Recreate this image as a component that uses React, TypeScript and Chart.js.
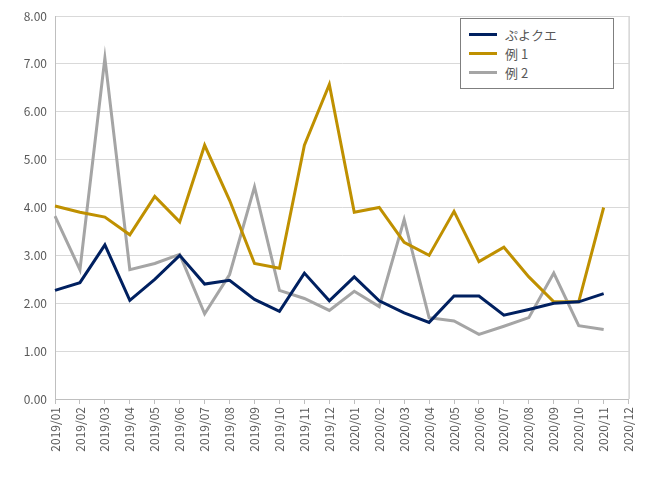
import React, { useEffect, useRef } from "react";
import { Chart, registerables } from "chart.js";
Chart.register(...registerables);

const categories = ["2019/01","2019/02","2019/03","2019/04","2019/05","2019/06","2019/07","2019/08","2019/09","2019/10","2019/11","2019/12","2020/01","2020/02","2020/03","2020/04","2020/05","2020/06","2020/07","2020/08","2020/09","2020/10","2020/11","2020/12"];
const puyo = [2.27,2.43,3.22,2.06,2.5,3.0,2.4,2.48,2.08,1.83,2.63,2.05,2.55,2.05,1.8,1.6,2.15,2.15,1.75,1.87,2.0,2.03,2.2];
const rei1 = [4.03,3.9,3.8,3.43,4.23,3.7,5.3,4.15,2.83,2.73,5.3,6.57,3.9,4.0,3.27,3.0,3.92,2.87,3.17,2.55,2.03,2.03,4.0];
const rei2 = [3.82,2.7,7.12,2.7,2.83,3.02,1.78,2.6,4.43,2.27,2.1,1.85,2.25,1.93,3.75,1.7,1.63,1.35,1.52,1.7,2.63,1.53,1.45];
const names = ["ぷよクエ","例 1","例 2"];
const colors = ["#002060","#BF9000","#A5A5A5"];

const FONT = "'Noto Sans CJK JP', 'Noto Sans', sans-serif";

export default function App() {
  const ref = useRef<HTMLCanvasElement>(null);
  useEffect(() => {
    const frame = {
      id: "frame",
      afterDatasetsDraw(c: any) {
        const { ctx, chartArea: a } = c;
        ctx.save();
        ctx.strokeStyle = "#BFBFBF";
        ctx.lineWidth = 1;
        ctx.beginPath();
        ctx.moveTo(a.right + 0.5, a.top);
        ctx.lineTo(a.right + 0.5, a.bottom);
        ctx.stroke();
        ctx.restore();
      },
    };
    const chart = new Chart(ref.current!, {
      type: "line",
      data: {
        labels: categories,
        datasets: [puyo, rei1, rei2].map((d, i) => ({
          label: names[i],
          data: d,
          borderColor: colors[i],
          backgroundColor: colors[i],
          borderWidth: 3,
          pointRadius: 0,
          tension: 0,
        })),
      },
      options: {
        animation: false,
        responsive: false,
        layout: { padding: { left: 8, right: 14, top: 16, bottom: 0 } },
        plugins: { legend: { display: false }, tooltip: { enabled: false } },
        scales: {
          x: {
            offset: false,
            grid: { display: true, drawOnChartArea: false, tickLength: 5, color: "#BFBFBF" },
            border: { color: "#BFBFBF" },
            ticks: { maxRotation: 90, minRotation: 90, autoSkip: false, color: "#595959", font: { family: FONT, size: 12 } },
            afterFit: (s: any) => { s.height = 82; },
          },
          y: {
            min: 0, max: 8,
            grid: { color: "#D9D9D9", drawTicks: false },
            border: { color: "#BFBFBF" },
            ticks: { stepSize: 1, padding: 8, color: "#595959", font: { family: FONT, size: 12 }, callback: (v: any) => Number(v).toFixed(2) },
            afterFit: (s: any) => { s.width = 47; },
          },
        },
      },
      plugins: [frame],
    });
    return () => chart.destroy();
  }, []);
  return (
    <div style={{ position: "fixed", left: 0, top: 0, width: 646, height: 481, background: "#fff" }}>
      <canvas ref={ref} width={646} height={481} />
      <div style={{ position: "absolute", left: 460, top: 18, width: 154, height: 71, border: "1px solid #7F7F7F", background: "#fff", boxSizing: "border-box", padding: "6px 0 0 8px", fontFamily: FONT, fontSize: 13, color: "#595959" }}>
        {names.map((n, i) => (
          <div key={n} style={{ display: "flex", alignItems: "center", height: 19 }}>
            <span style={{ display: "inline-block", width: 28, height: 3, background: colors[i], marginRight: 8 }} />
            {n}
          </div>
        ))}
      </div>
    </div>
  );
}
